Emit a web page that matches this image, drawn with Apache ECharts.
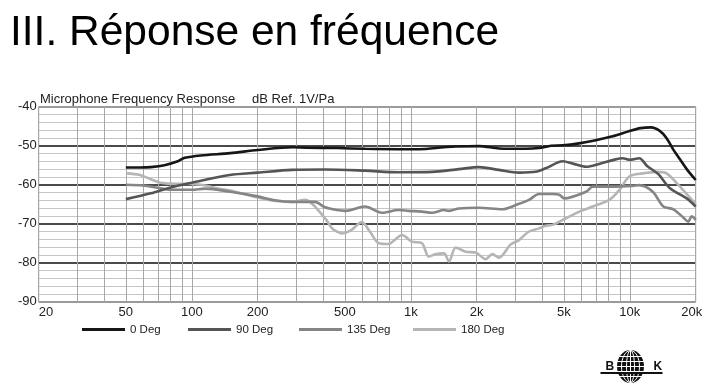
<!DOCTYPE html>
<html><head><meta charset="utf-8">
<script src="https://cdn.jsdelivr.net/npm/echarts@6/dist/echarts.min.js"></script>
<style>html,body{margin:0;padding:0;background:#fff}#c{width:707px;height:388px}</style>
</head><body><div id="c"></div>
<script>
const FONT = '"Liberation Sans", Arial, sans-serif';
const titleText = 'III. Réponse en fréquence';
const chartCaption = 'Microphone Frequency Response';
const chartUnit = 'dB Ref. 1V/Pa';
const seriesNames = ['0 Deg', '90 Deg', '135 Deg', '180 Deg'];
const seriesColors = ['#161616', '#555555', '#858585', '#b5b5b5'];

// [frequency Hz, dB]
const deg0 = [[50,-55.6],[58,-55.6],[65,-55.5],[75,-55.0],[87,-53.9],[93,-53.1],[110,-52.5],[150,-51.9],[200,-51.1],[290,-50.4],[330,-50.5],[460,-50.6],[620,-50.8],[880,-50.9],[1090,-50.9],[1420,-50.4],[1600,-50.2],[2050,-50.1],[2530,-50.7],[3350,-50.8],[3850,-50.6],[4370,-50.0],[4940,-49.9],[5860,-49.4],[7000,-48.6],[8360,-47.6],[9900,-46.3],[11200,-45.5],[12500,-45.3],[13700,-46.2],[14700,-48.0],[15800,-51.0],[16400,-52.3],[18200,-56.0],[20000,-58.8]];
const deg90 = [[50,-63.7],[65,-62.2],[80,-60.7],[100,-59.5],[149,-57.5],[200,-56.9],[286,-56.2],[406,-56.1],[618,-56.4],[880,-56.8],[1250,-56.7],[1660,-56.0],[2048,-55.5],[2528,-56.2],[3120,-56.9],[3718,-56.7],[4130,-55.8],[4950,-54.0],[5500,-54.6],[6330,-55.4],[7300,-54.6],[8360,-53.7],[9280,-53.2],[10000,-53.6],[11050,-53.2],[12000,-55.2],[13500,-57.3],[15260,-60.9],[18200,-63.5],[20000,-65.6]];
const deg135 = [[50,-60.0],[60,-60.2],[70,-60.8],[80,-61.3],[100,-61.3],[115,-61.0],[150,-61.8],[200,-63.0],[240,-64.0],[286,-64.4],[365,-64.4],[406,-65.8],[460,-66.5],[502,-66.7],[618,-65.6],[739,-67.2],[880,-66.5],[978,-66.7],[1125,-66.9],[1250,-67.2],[1418,-66.5],[1494,-66.7],[1660,-66.1],[2048,-65.9],[2618,-66.3],[3120,-64.9],[3466,-63.9],[3848,-62.4],[4446,-62.4],[4768,-62.6],[5024,-63.5],[6312,-61.8],[6774,-60.5],[8360,-60.5],[10310,-60.3],[11050,-60.1],[12730,-61.8],[14230,-65.6],[15810,-66.3],[17550,-68.4],[18500,-69.5],[19150,-68.1],[20000,-69.0]];
const deg180 = [[50,-57.1],[58,-57.5],[65,-58.6],[72,-59.5],[85,-59.8],[100,-59.8],[115,-60.2],[130,-60.9],[150,-61.5],[200,-63.3],[240,-64.2],[286,-64.4],[329,-63.9],[406,-68.6],[437,-71.2],[460,-72.0],[485,-72.5],[530,-71.8],[598,-69.6],[650,-72.0],[714,-75.0],[793,-75.2],[850,-74.0],[912,-72.9],[1013,-74.6],[1125,-75.0],[1208,-78.4],[1300,-77.8],[1418,-77.6],[1494,-79.7],[1604,-76.1],[1782,-77.2],[1979,-77.4],[2198,-79.1],[2357,-77.8],[2528,-78.7],[2860,-75.3],[3120,-74.2],[3466,-72.0],[3848,-71.2],[4130,-70.5],[4446,-70.3],[5116,-68.6],[5882,-66.9],[6774,-65.6],[8066,-63.9],[8958,-61.4],[9952,-57.9],[11456,-57.1],[13460,-56.7],[14740,-57.1],[16950,-60.5],[20000,-65.0]];
const seriesData = [deg0, deg90, deg135, deg180];

const xGridValues = [20,30,40,50,60,70,80,90,100,200,300,400,500,600,700,800,900,1000,2000,3000,4000,5000,6000,7000,8000,9000,10000,20000];
const xLabelValues = [20,50,100,200,500,1000,2000,5000,10000,20000];
const xLabelTexts = ['20','50','100','200','500','1k','2k','5k','10k','20k'];
const yMin = -90, yMax = -40, yStep = 10;

const legendLefts = [82, 188, 299, 413];

const chart = echarts.init(document.getElementById('c'), null, {renderer: 'canvas'});
const option = {
  animation: false,
  backgroundColor: '#fff',
  textStyle: {fontFamily: FONT},
  grid: {left: 38.7, right: 11.3, top: 106.7, bottom: 86.3, show: true, borderColor: '#9a9a9a', borderWidth: 1, backgroundColor: 'transparent'},
  xAxis: {
    type: 'log', logBase: 10, min: 20, max: 20000,
    axisLine: {show: false},
    axisTick: {show: false, customValues: xGridValues},
    splitLine: {show: true, lineStyle: {color: '#a8a8a8', width: 1}},
    axisLabel: {
      customValues: xLabelValues, margin: 4, fontSize: 13, color: '#222', fontFamily: FONT,
      alignMinLabel: 'left',
      formatter: function (v) {
        const i = xLabelValues.indexOf(Math.round(v));
        const t = i >= 0 ? xLabelTexts[i] : '';
        return v >= 19999 ? '{r|' + t + '}' : t;
      },
      rich: {r: {fontSize: 13, color: '#222', fontFamily: FONT, padding: [0, 8, 0, 0]}}
    }
  },
  yAxis: {
    type: 'value', min: yMin, max: yMax, interval: yStep,
    axisLine: {show: false}, axisTick: {show: false},
    axisLabel: {margin: 2, fontSize: 13, color: '#222', fontFamily: FONT},
    splitLine: {show: true, lineStyle: {color: ['#9a9a9a', '#4a4a4a', '#4a4a4a', '#4a4a4a', '#4a4a4a', '#9a9a9a'], width: 2}},
    minorTick: {show: false, splitNumber: 5},
    minorSplitLine: {show: true, lineStyle: {color: '#c6c6c6', width: 1}}
  },
  legend: seriesNames.map((n, i) => ({
    data: [n], left: legendLefts[i], top: 323.5, padding: 0,
    icon: 'rect', itemWidth: 43, itemHeight: 3,
    textStyle: {fontSize: 11.5, color: '#222', fontFamily: FONT}
  })),
  series: seriesNames.map((n, i) => ({
    name: n, type: 'line', data: seriesData[i], showSymbol: false, symbol: 'none',
    smooth: 0.3, z: 10 - i,
    lineStyle: {color: seriesColors[i], width: 2.6},
    itemStyle: {color: seriesColors[i]}
  })),
  graphic: [
    {type: 'text', left: 10, top: 12, style: {text: titleText, font: '42.5px ' + FONT, fill: '#000'}},
    {type: 'text', left: 40, top: 93, style: {text: chartCaption, font: '13px ' + FONT, fill: '#222'}},
    {type: 'text', left: 252, top: 93, style: {text: chartUnit, font: '13px ' + FONT, fill: '#222'}},
    {type: 'group', left: 598, top: 348, children: [
      {type: 'ellipse', shape: {cx: 30, cy: 17, rx: 13.5, ry: 16.5}, style: {fill: '#111'}},
      {type: 'line', shape: {x1: 17, y1: 7, x2: 43, y2: 7}, style: {stroke: '#fff', lineWidth: 1}},
      {type: 'line', shape: {x1: 16, y1: 12, x2: 44, y2: 12}, style: {stroke: '#fff', lineWidth: 1}},
      {type: 'line', shape: {x1: 16, y1: 17, x2: 44, y2: 17}, style: {stroke: '#fff', lineWidth: 1}},
      {type: 'line', shape: {x1: 16, y1: 22, x2: 44, y2: 22}, style: {stroke: '#fff', lineWidth: 1}},
      {type: 'line', shape: {x1: 17, y1: 27, x2: 43, y2: 27}, style: {stroke: '#fff', lineWidth: 1}},
      {type: 'ellipse', shape: {cx: 30, cy: 17, rx: 4, ry: 16}, style: {fill: 'none', stroke: '#fff', lineWidth: 1}},
      {type: 'ellipse', shape: {cx: 30, cy: 17, rx: 9, ry: 16}, style: {fill: 'none', stroke: '#fff', lineWidth: 1}},
      {type: 'line', shape: {x1: 30, y1: 1, x2: 30, y2: 33}, style: {stroke: '#fff', lineWidth: 1}},
      {type: 'line', shape: {x1: 0, y1: 23.5, x2: 62, y2: 23.5}, style: {stroke: '#111', lineWidth: 2}},
      {type: 'text', left: 5, top: 11, style: {text: 'B', font: 'bold 12px ' + FONT, fill: '#111'}},
      {type: 'text', left: 53, top: 11, style: {text: 'K', font: 'bold 12px ' + FONT, fill: '#111'}}
    ]}
  ]
};
chart.setOption(option);
</script></body></html>
